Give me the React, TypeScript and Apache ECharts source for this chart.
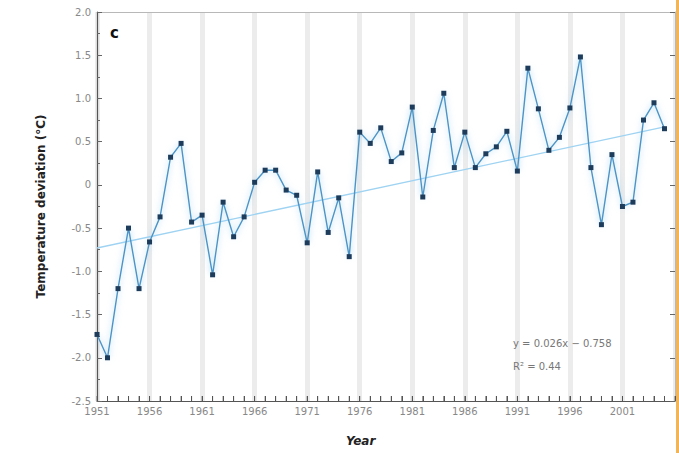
import React, { useEffect, useRef } from "react";
import * as echarts from "echarts";

const years: string[] = [
  "1951","1952","1953","1954","1955","1956","1957","1958","1959","1960",
  "1961","1962","1963","1964","1965","1966","1967","1968","1969","1970",
  "1971","1972","1973","1974","1975","1976","1977","1978","1979","1980",
  "1981","1982","1983","1984","1985","1986","1987","1988","1989","1990",
  "1991","1992","1993","1994","1995","1996","1997","1998","1999","2000",
  "2001","2002","2003","2004","2005","2006",
];

const deviation: number[] = [
  -1.73, -2.0, -1.2, -0.5, -1.2, -0.66, -0.37, 0.32, 0.48, -0.43,
  -0.35, -1.04, -0.2, -0.6, -0.37, 0.03, 0.17, 0.17, -0.06, -0.12,
  -0.67, 0.15, -0.55, -0.15, -0.83, 0.61, 0.48, 0.66, 0.27, 0.37,
  0.9, -0.14, 0.63, 1.06, 0.2, 0.61, 0.2, 0.36, 0.44, 0.62,
  0.16, 1.35, 0.88, 0.4, 0.55, 0.89, 1.48, 0.2, -0.46, 0.35,
  -0.25, -0.2, 0.75, 0.95, 0.65,
];

const trendEnds: number[] = [-0.73, 0.67];
const trendYears: string[] = ["1951", "2005"];

const yTicks = { min: -2.5, max: 2.0, step: 0.5 };
const lastLabelledYear = "2001";

const equationText = "y = 0.026x − 0.758";
const r2Text = "R² = 0.44";

export default function App() {
  const ref = useRef<HTMLDivElement>(null);
  useEffect(() => {
    if (!ref.current) return;
    const chart = echarts.init(ref.current, null, { renderer: "svg" });
    const trendData = years.map((y) => {
      const i = trendYears.indexOf(y);
      return i >= 0 ? trendEnds[i] : null;
    });
    const yearTickData = years.map((y) => [y, yTicks.min]);
    const tickColor = "#666";
    chart.setOption({
      animation: false,
      backgroundColor: "#fff",
      grid: {
        left: 97,
        right: 4,
        top: 12,
        bottom: 52,
        show: false,
      },
      textStyle: { fontFamily: "DejaVu Sans" },
      xAxis: [
        {
          type: "category",
          data: years,
          boundaryGap: false,
          position: "bottom",
          axisLine: { show: true, onZero: false, lineStyle: { color: "#555", width: 1.2 } },
          axisTick: {
            show: true,
            inside: true,
            interval: 0,
            length: 5,
            lineStyle: { color: "#555", width: 1 },
          },
          axisLabel: {
            interval: 4,
            color: "#888",
            fontSize: 10,
            margin: 5,
            formatter: (v: string) => (Number(v) > Number(lastLabelledYear) ? "" : v),
          },
          splitLine: {
            show: true,
            interval: 4,
            lineStyle: { color: "#ececec", width: 5 },
          },
        },
        {
          type: "category",
          data: years,
          boundaryGap: false,
          position: "top",
          axisLine: { show: true, onZero: false, lineStyle: { color: "#b8b8b8", width: 1 } },
          axisTick: { show: false },
          axisLabel: { show: false },
          splitLine: { show: false },
        },
      ],
      yAxis: [
        {
          type: "value",
          min: yTicks.min,
          max: yTicks.max,
          interval: yTicks.step,
          axisLine: { show: true, onZero: false, lineStyle: { color: "#555", width: 1.2 } },
          axisTick: { show: true, inside: true, length: 5, lineStyle: { color: tickColor } },
          minorTick: { show: true, splitNumber: 2, length: 3, lineStyle: { color: tickColor } },
          axisLabel: {
            color: "#888",
            fontSize: 10,
            margin: 6,
            formatter: (v: number) => (v === 0 ? "0" : v.toFixed(1)),
          },
          splitLine: { show: false },
          name: "Temperature deviation (°C)",
          nameLocation: "middle",
          nameGap: 50,
          nameTextStyle: { fontSize: 12, fontWeight: "bold", color: "#222" },
        },
        {
          type: "value",
          position: "right",
          min: yTicks.min,
          max: yTicks.max,
          interval: yTicks.step,
          axisLine: { show: true, onZero: false, lineStyle: { color: "#b8b8b8" } },
          axisTick: { show: true, inside: true, length: 5, lineStyle: { color: tickColor } },
          axisLabel: { show: false },
          splitLine: { show: false },
        },
      ],
      series: [
        {
          type: "scatter",
          data: yearTickData,
          symbol: "rect",
          symbolSize: [1, 5],
          symbolOffset: [0, -2.5],
          itemStyle: { color: "#555" },
          silent: true,
          z: 4,
        },
        {
          type: "line",
          data: trendData,
          connectNulls: true,
          showSymbol: false,
          symbol: "none",
          lineStyle: { color: "#9fd3f2", width: 1.3 },
          z: 2,
        },
        {
          type: "line",
          data: deviation,
          symbol: "rect",
          symbolSize: 5,
          itemStyle: { color: "#1d3c5c" },
          lineStyle: {
            color: "#4d94c6",
            width: 1.4,
            shadowColor: "rgba(120,190,235,0.7)",
            shadowBlur: 6,
          },
          z: 3,
        },
      ],
      graphic: [
        {
          type: "text",
          left: 110,
          top: 25,
          z: 100,
          style: { text: "c", font: "bold 15px 'DejaVu Sans'", fill: "#111" },
        },
        {
          type: "text",
          left: 513,
          top: 338,
          z: 100,
          style: { text: equationText, font: "10px 'DejaVu Sans'", fill: "#777" },
        },
        {
          type: "text",
          left: 513,
          top: 361,
          z: 100,
          style: { text: r2Text, font: "10px 'DejaVu Sans'", fill: "#777" },
        },
        {
          type: "text",
          left: 346,
          top: 435,
          z: 100,
          style: { text: "Year", font: "italic bold 12px 'DejaVu Sans'", fill: "#222" },
        },
        {
          type: "rect",
          right: 0,
          top: 0,
          z: 100,
          shape: { width: 3, height: 453 },
          style: { fill: "#f0b45a" },
        },
      ],
    });
    return () => chart.dispose();
  }, []);
  return (
    <div
      ref={ref}
      style={{ position: "absolute", left: 0, top: 0, width: 679, height: 453 }}
    />
  );
}
